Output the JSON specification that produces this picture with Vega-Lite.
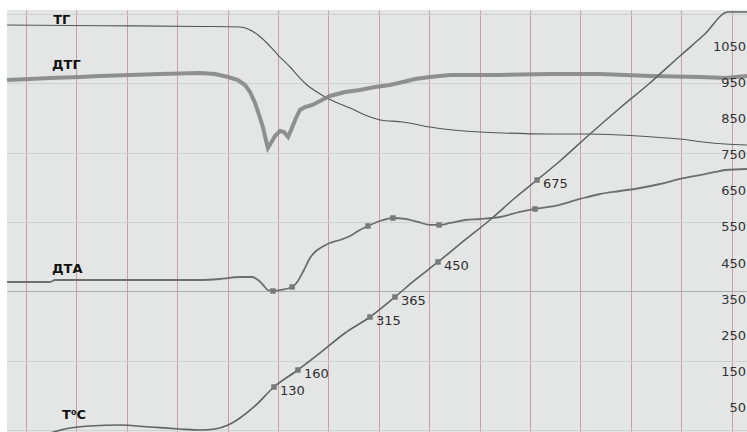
{
  "$schema": "https://vega.github.io/schema/vega-lite/v6.json",
  "width": 747,
  "height": 432,
  "autosize": {"type": "fit", "contains": "padding"},
  "padding": {"left": 7, "top": 10, "right": 0, "bottom": 0},
  "background": "white",
  "config": {"view": {"fill": "#e4e6e6", "stroke": null}},
  "datasets": {
    "tg": [
      {"t": 0.25, "v": 1111.0}, {"t": 3.94, "v": 1109.0}, {"t": 7.9, "v": 1107.0}, {"t": 9.49, "v": 1105.4},
      {"t": 9.81, "v": 1099.9}, {"t": 10.21, "v": 1083.2}, {"t": 10.56, "v": 1061.1}, {"t": 11.0, "v": 1027.8},
      {"t": 11.48, "v": 994.6}, {"t": 11.87, "v": 964.1}, {"t": 12.15, "v": 944.7}, {"t": 12.55, "v": 925.4},
      {"t": 12.94, "v": 908.7}, {"t": 13.46, "v": 892.1}, {"t": 13.86, "v": 881.0}, {"t": 14.45, "v": 861.6},
      {"t": 15.05, "v": 847.8}, {"t": 15.96, "v": 842.3}, {"t": 17.03, "v": 828.4}, {"t": 17.94, "v": 820.1},
      {"t": 19.02, "v": 814.6}, {"t": 19.93, "v": 811.8}, {"t": 21.79, "v": 809.0}, {"t": 23.26, "v": 809.0},
      {"t": 24.57, "v": 806.2}, {"t": 25.88, "v": 800.7}, {"t": 26.95, "v": 795.2}, {"t": 27.86, "v": 786.9},
      {"t": 28.74, "v": 781.3}, {"t": 29.61, "v": 778.5}
    ],
    "dtg": [
      {"t": 0.25, "v": 958.6}, {"t": 1.16, "v": 961.4}, {"t": 1.95, "v": 964.1}, {"t": 3.14, "v": 966.9},
      {"t": 3.94, "v": 969.7}, {"t": 5.13, "v": 972.4}, {"t": 6.32, "v": 975.2}, {"t": 7.9, "v": 978.0},
      {"t": 8.5, "v": 975.2}, {"t": 9.02, "v": 966.9}, {"t": 9.41, "v": 958.6}, {"t": 9.69, "v": 944.7},
      {"t": 9.89, "v": 925.4}, {"t": 10.09, "v": 894.9}, {"t": 10.25, "v": 861.6}, {"t": 10.41, "v": 825.6},
      {"t": 10.52, "v": 792.4}, {"t": 10.6, "v": 770.2}, {"t": 10.72, "v": 784.1}, {"t": 10.88, "v": 803.5},
      {"t": 11.08, "v": 817.3}, {"t": 11.24, "v": 814.6}, {"t": 11.4, "v": 800.7}, {"t": 11.52, "v": 820.1},
      {"t": 11.68, "v": 847.8}, {"t": 11.87, "v": 875.5}, {"t": 12.07, "v": 883.8}, {"t": 12.35, "v": 889.3},
      {"t": 12.67, "v": 900.4}, {"t": 13.06, "v": 914.3}, {"t": 13.66, "v": 925.4}, {"t": 14.25, "v": 930.9},
      {"t": 14.85, "v": 939.2}, {"t": 15.44, "v": 944.7}, {"t": 15.96, "v": 953.1}, {"t": 16.44, "v": 961.4},
      {"t": 17.03, "v": 966.9}, {"t": 17.83, "v": 972.4}, {"t": 19.81, "v": 972.4}, {"t": 21.79, "v": 975.2},
      {"t": 23.78, "v": 975.2}, {"t": 25.76, "v": 969.7}, {"t": 27.75, "v": 966.9}, {"t": 28.74, "v": 964.1},
      {"t": 29.61, "v": 969.7}
    ],
    "dta": [
      {"t": 0.25, "v": 399.0}, {"t": 1.95, "v": 399.0}, {"t": 2.15, "v": 404.6}, {"t": 3.94, "v": 404.6},
      {"t": 5.92, "v": 404.6}, {"t": 7.9, "v": 404.6}, {"t": 8.7, "v": 407.4}, {"t": 9.49, "v": 412.9},
      {"t": 9.97, "v": 412.9}, {"t": 10.21, "v": 404.6}, {"t": 10.41, "v": 390.7}, {"t": 10.6, "v": 376.9},
      {"t": 10.8, "v": 374.1}, {"t": 11.08, "v": 376.9}, {"t": 11.56, "v": 385.2}, {"t": 11.79, "v": 401.8},
      {"t": 12.03, "v": 432.3}, {"t": 12.27, "v": 465.5}, {"t": 12.51, "v": 484.9}, {"t": 12.75, "v": 496.0},
      {"t": 13.06, "v": 507.1}, {"t": 13.46, "v": 515.4}, {"t": 13.86, "v": 526.5}, {"t": 14.25, "v": 543.1},
      {"t": 14.57, "v": 554.2}, {"t": 15.05, "v": 568.0}, {"t": 15.56, "v": 576.3}, {"t": 16.04, "v": 573.6},
      {"t": 16.56, "v": 565.3}, {"t": 17.03, "v": 557.0}, {"t": 17.39, "v": 557.0}, {"t": 17.83, "v": 562.5},
      {"t": 18.42, "v": 570.8}, {"t": 19.02, "v": 573.6}, {"t": 19.81, "v": 579.1}, {"t": 20.6, "v": 593.0},
      {"t": 21.2, "v": 601.3}, {"t": 21.99, "v": 609.6}, {"t": 22.98, "v": 629.0}, {"t": 23.78, "v": 642.8},
      {"t": 24.57, "v": 651.1}, {"t": 25.37, "v": 659.4}, {"t": 26.16, "v": 670.5}, {"t": 26.95, "v": 684.4},
      {"t": 27.75, "v": 695.4}, {"t": 28.34, "v": 703.8}, {"t": 28.74, "v": 709.3}, {"t": 29.61, "v": 712.1}
    ],
    "temp": [
      {"t": 1.56, "v": -27.5}, {"t": 1.95, "v": -19.2}, {"t": 2.55, "v": -8.1}, {"t": 3.54, "v": 0.2},
      {"t": 4.73, "v": 2.9}, {"t": 5.92, "v": -2.6}, {"t": 7.11, "v": -8.1}, {"t": 7.9, "v": -10.9},
      {"t": 8.5, "v": -8.1}, {"t": 9.02, "v": 2.9}, {"t": 9.49, "v": 22.3}, {"t": 10.09, "v": 55.6},
      {"t": 10.84, "v": 108.2}, {"t": 11.79, "v": 155.3}, {"t": 12.67, "v": 202.4}, {"t": 13.66, "v": 257.8},
      {"t": 14.65, "v": 302.1}, {"t": 15.64, "v": 357.5}, {"t": 16.44, "v": 404.6}, {"t": 17.35, "v": 454.5},
      {"t": 18.42, "v": 515.4}, {"t": 19.41, "v": 570.8}, {"t": 20.4, "v": 631.7}, {"t": 21.28, "v": 681.6},
      {"t": 22.19, "v": 734.2}, {"t": 23.38, "v": 809.0}, {"t": 24.57, "v": 881.0}, {"t": 25.76, "v": 950.3},
      {"t": 26.95, "v": 1025.1}, {"t": 27.94, "v": 1086.0}, {"t": 28.86, "v": 1147.0}, {"t": 29.61, "v": 1147.0}
    ],
    "markers": [
      {"t": 10.8, "v": 374.1, "label": ""}, {"t": 11.56, "v": 385.2, "label": ""},
      {"t": 14.57, "v": 554.2, "label": ""}, {"t": 15.56, "v": 576.3, "label": ""},
      {"t": 17.39, "v": 557.0, "label": ""}, {"t": 21.2, "v": 601.3, "label": ""},
      {"t": 10.84, "v": 108.2, "label": "130"}, {"t": 11.79, "v": 155.3, "label": "160"},
      {"t": 14.65, "v": 302.1, "label": "315"}, {"t": 15.64, "v": 357.5, "label": "365"},
      {"t": 17.35, "v": 454.5, "label": "450"}, {"t": 21.28, "v": 681.6, "label": "675"}
    ],
    "series": [
      {"t": 2.08, "v": 1124.8, "label": "ТГ"},
      {"t": 2.03, "v": 1000.1, "label": "ДТГ"},
      {"t": 2.03, "v": 435.1, "label": "ДТА"},
      {"t": 2.43, "v": 30.6, "label": "T⁰C"}
    ],
    "scale": [
      {"v": 1050, "label": "1050"}, {"v": 950, "label": "950"}, {"v": 850, "label": "850"},
      {"v": 750, "label": "750"}, {"v": 650, "label": "650"}, {"v": 550, "label": "550"},
      {"v": 450, "label": "450"}, {"v": 350, "label": "350"}, {"v": 250, "label": "250"},
      {"v": 150, "label": "150"}, {"v": 50, "label": "50"}
    ]
  },
  "layer": [
    {
      "data": {"name": "tg"},
      "mark": {"type": "line", "color": "#4d5855", "strokeWidth": 1.1, "interpolate": "monotone", "clip": true},
      "encoding": {
        "x": {
          "field": "t", "type": "quantitative",
          "scale": {"domain": [0.246, 29.611], "nice": false, "zero": false},
          "axis": {
            "values": [1, 2, 3, 4, 5, 6, 7, 8, 9, 10, 11, 12, 13, 14, 15, 16, 17, 18, 19, 20, 21, 22, 23, 24, 25, 26, 27, 28, 29],
            "grid": true, "gridColor": "#c9939f", "gridWidth": 1, "gridOpacity": 0.9,
            "labels": false, "ticks": false, "domain": false, "title": null
          }
        },
        "y": {
          "field": "v", "type": "quantitative",
          "scale": {"domain": [-16.5, 1152.5], "nice": false, "zero": false},
          "axis": {
            "values": [-11, 1, 13, 25, 37, 49, 61, 73, 85, 97, 109, 121, 133, 145, 157, 169, 181, 193, 205, 217, 229, 241, 253, 265, 277, 289, 301, 313, 325, 337, 349, 361, 373, 385, 397, 409, 421, 433, 445, 457, 469, 481, 493, 505, 517, 529, 541, 553, 565, 577, 589, 601, 613, 625, 637, 649, 661, 673, 685, 697, 709, 721, 733, 745, 757, 769, 781, 793, 805, 817, 829, 841, 853, 865, 877, 889, 901, 913, 925, 937, 949, 961, 973, 985, 997, 1009, 1021, 1033, 1045, 1057, 1069, 1081, 1093, 1105, 1117, 1129, 1141],
            "grid": true,
            "gridColor": {"condition": {"test": "(datum.value - 13) % 60 === 0", "value": "#a9aeaf"}, "value": "#cdd1d2"},
            "gridWidth": 1,
            "labels": false, "ticks": false, "domain": false, "title": null
          }
        }
      }
    },
    {
      "data": {"name": "dtg"},
      "mark": {"type": "line", "color": "#858585", "strokeWidth": 4, "opacity": 0.9, "clip": true},
      "encoding": {"x": {"field": "t", "type": "quantitative"}, "y": {"field": "v", "type": "quantitative"}}
    },
    {
      "data": {"name": "dta"},
      "mark": {"type": "line", "color": "#6c6f6e", "strokeWidth": 1.8, "interpolate": "monotone", "clip": true},
      "encoding": {"x": {"field": "t", "type": "quantitative"}, "y": {"field": "v", "type": "quantitative"}}
    },
    {
      "data": {"name": "temp"},
      "mark": {"type": "line", "color": "#5e6563", "strokeWidth": 1.6, "interpolate": "monotone", "clip": true},
      "encoding": {"x": {"field": "t", "type": "quantitative"}, "y": {"field": "v", "type": "quantitative"}}
    },
    {
      "data": {"name": "markers"},
      "mark": {"type": "square", "size": 30, "filled": true, "color": "#777a79", "opacity": 1},
      "encoding": {"x": {"field": "t", "type": "quantitative"}, "y": {"field": "v", "type": "quantitative"}}
    },
    {
      "data": {"name": "markers"},
      "transform": [{"filter": "datum.label !== ''"}],
      "mark": {"type": "text", "align": "left", "baseline": "middle", "dx": 6, "dy": 4, "font": "DejaVu Sans", "fontSize": 13, "color": "#2e2e2e"},
      "encoding": {"x": {"field": "t", "type": "quantitative"}, "y": {"field": "v", "type": "quantitative"}, "text": {"field": "label"}}
    },
    {
      "data": {"name": "series"},
      "mark": {"type": "text", "align": "left", "baseline": "middle", "font": "DejaVu Sans", "fontSize": 13, "fontWeight": "bold", "color": "#111111"},
      "encoding": {"x": {"field": "t", "type": "quantitative"}, "y": {"field": "v", "type": "quantitative"}, "text": {"field": "label"}}
    },
    {
      "data": {"name": "scale"},
      "mark": {"type": "text", "align": "right", "baseline": "middle", "dx": -1, "font": "DejaVu Sans", "fontSize": 13, "color": "#333333"},
      "encoding": {"x": {"datum": 29.611, "type": "quantitative"}, "y": {"field": "v", "type": "quantitative"}, "text": {"field": "label"}}
    }
  ]
}
